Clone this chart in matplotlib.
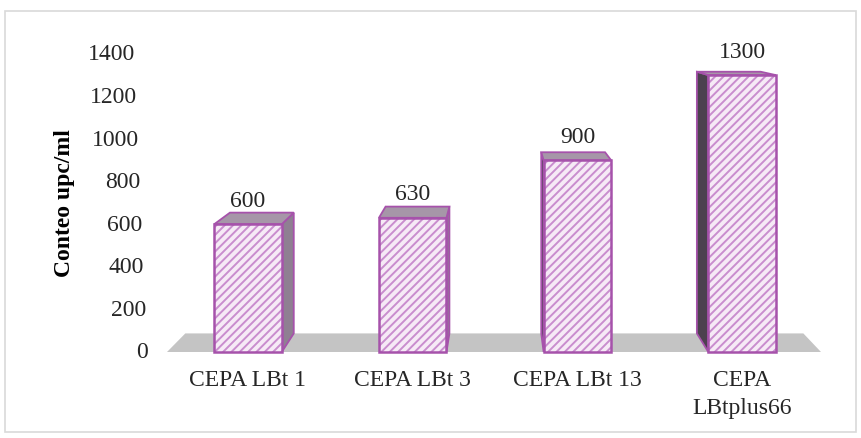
import matplotlib
matplotlib.use("Agg")
import matplotlib.pyplot as plt
from matplotlib.patches import Polygon, Rectangle

categories = ["CEPA LBt 1", "CEPA LBt 3", "CEPA LBt 13", "CEPA\nLBtplus66"]
values = [600, 630, 900, 1300]
yticks = [0, 200, 400, 600, 800, 1000, 1200, 1400]
ylabel = "Conteo upc/ml"

plt.rcParams["font.family"] = ["Liberation Serif", "DejaVu Serif"]
plt.rcParams["hatch.linewidth"] = 1.4

W, H = 862, 439
fig = plt.figure(figsize=(W / 100, H / 100), dpi=100)
ax = fig.add_axes([0, 0, 1, 1])
ax.set_axis_off()

# pixel layout of the plotting frame
x0_px, ux = 248.0, 164.7          # category 0 centre, px per category
y0_px, uy = 353.0, 42.6 / 200.0   # value 0 baseline (from top), px per unit
ax.set_xlim(-x0_px / ux, (W - x0_px) / ux)
ax.set_ylim(-(H - y0_px) / uy, y0_px / uy)

# simple perspective: back face points pulled toward a vanishing point
vp = ((500 - x0_px) / ux, (y0_px - 15) / uy)
depth = 0.055


def back(p):
    return (p[0] + depth * (vp[0] - p[0]), p[1] + depth * (vp[1] - p[1]))


edge = "#a652ab"
stripe = "#c98dce"
front_fill = "#f6eaf6"
top_fill = "#a696a8"
right_fill = "#8f7f92"
left_fill = "#4c414f"
fs = 17

# floor
fl, fr = (167 - x0_px) / ux, (821 - x0_px) / ux
floor = [(fl, 0), (fr, 0), back((fr, 0)), back((fl, 0))]
ax.add_patch(Polygon(floor, closed=True, facecolor="#c4c4c4", edgecolor="none", zorder=1))

bw = 0.41
for i, v in enumerate(values):
    xl, xr = i - bw / 2, i + bw / 2
    # visible side face
    if i < vp[0]:
        side = [(xr, 0), (xr, v), back((xr, v)), back((xr, 0))]
        sc = right_fill
    else:
        side = [(xl, 0), (xl, v), back((xl, v)), back((xl, 0))]
        sc = left_fill
    ax.add_patch(Polygon(side, closed=True, facecolor=sc, edgecolor=edge, lw=1.3, zorder=2))
    top = [(xl, v), (xr, v), back((xr, v)), back((xl, v))]
    ax.add_patch(Polygon(top, closed=True, facecolor=top_fill, edgecolor=edge, lw=1.3, zorder=2))

# front faces: hatched fill, then outline
ax.bar(range(len(values)), values, width=bw, color=front_fill, edgecolor=stripe,
       hatch="////", linewidth=0, zorder=3)
ax.bar(range(len(values)), values, width=bw, fill=False, edgecolor=edge,
       linewidth=1.8, zorder=4)

# value labels
for i, v in enumerate(values):
    ax.text(i, v + 112, f"{v}", ha="center", va="center", fontsize=fs, color="#262626", zorder=5)

# y tick labels, shifted slightly with height like the perspective frame
top_t = max(yticks)
for t in yticks:
    xr_px = 148 - 13 * t / top_t
    ax.text((xr_px - x0_px) / ux, t, f"{t}", ha="right", va="center",
            fontsize=fs, color="#262626")

ax.text((65 - x0_px) / ux, (y0_px - 203) / uy, ylabel, rotation=90, ha="center",
        va="center", fontsize=fs, fontweight="bold", color="#000000")

# category labels
for i, c in enumerate(categories):
    ax.text(i, (y0_px - 370) / uy, c, ha="center", va="top", fontsize=fs,
            color="#262626", linespacing=1.45)

# chart border
fig.patches.append(Rectangle((5 / W, 1 - 433 / H), 851 / W, 421 / H,
                             transform=fig.transFigure, fill=False,
                             edgecolor="#d9d9d9", linewidth=1.2))

fig.savefig("out.png", dpi=100, facecolor="white")
